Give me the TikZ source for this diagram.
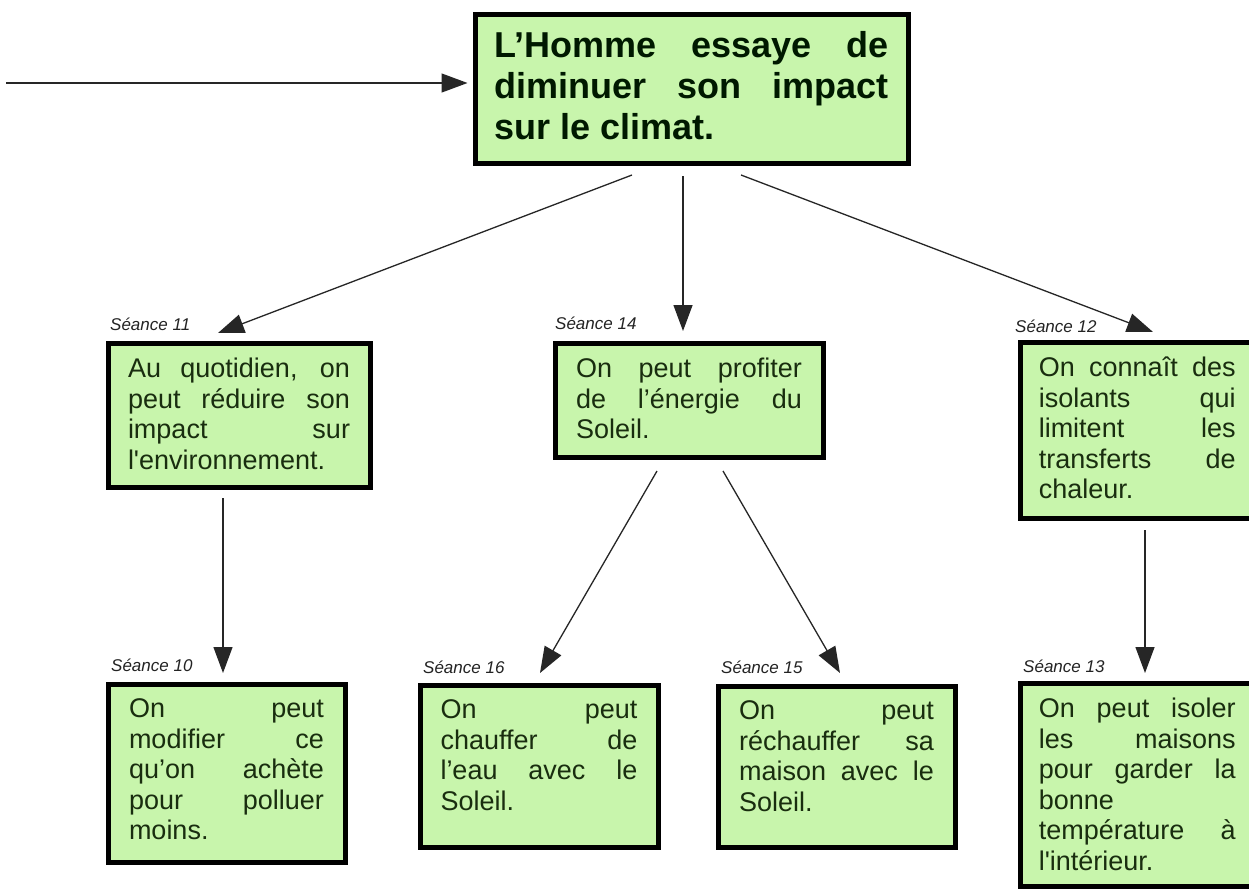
\documentclass[tikz,border=0pt]{standalone}
\usepackage{fontspec}
\newfontfamily\lib{Liberation Sans}
\usetikzlibrary{arrows.meta}
\definecolor{boxfill}{RGB}{200,245,172}
\definecolor{txt}{RGB}{25,45,15}
\definecolor{labcol}{RGB}{35,35,35}
\newcommand\boxtext[4]{\parbox[c][#1][t]{#2}{\hyphenpenalty=10000\tolerance=10000\rule{0pt}{#3}#4}}
\begin{document}
\begin{tikzpicture}[x=1pt,y=-1pt,
  box/.style={draw=black, line width=5pt, fill=boxfill, text=txt, anchor=north west, inner ysep=0pt,
    font=\lib\fontsize{27}{30.5}\selectfont},
  topbox/.style={box, font=\lib\bfseries\fontsize{36}{41}\selectfont, text=black!90!green},
  lab/.style={anchor=base west, inner sep=0pt, text=labcol, font=\lib\itshape\fontsize{17}{19}\selectfont},
  arr/.style={draw=black!85, line width=1.3pt, -{Triangle[length=26pt,width=19pt]}}]
\clip (0,0) rectangle (1249,891);
\useasboundingbox (0,0) rectangle (1249,891);
\fill[white] (0,0) rectangle (1249,891);

% boxes
\node[topbox, inner xsep=19.5pt] (top) at (472.5,12.5)
  {\boxtext{148pt}{394pt}{42.5pt}{L’Homme essaye de\linebreak diminuer son impact\linebreak sur le climat.}};
\node[box, inner xsep=20pt] (b11) at (105.5,340.5)
  {\boxtext{144pt}{222pt}{34.5pt}{Au quotidien, on\linebreak peut réduire son\linebreak impact sur\linebreak l'environnement.}};
\node[box, inner xsep=21pt] (b14) at (552.5,340.5)
  {\boxtext{114pt}{226pt}{34.5pt}{On peut profiter\linebreak de l’énergie du\linebreak Soleil.}};
\node[box, inner xsep=18.75pt] (b12) at (1017.5,339.5)
  {\boxtext{176pt}{197pt}{34.5pt}{On connaît des\linebreak isolants qui\linebreak limitent les\linebreak transferts de\linebreak chaleur.}};
\node[box, inner xsep=21pt] (b10) at (105.5,681.5)
  {\boxtext{178pt}{195pt}{33.5pt}{On peut\linebreak modifier ce\linebreak qu’on achète\linebreak pour polluer\linebreak moins.}};
\node[box, inner xsep=20.5pt] (b16) at (417.5,682.5)
  {\boxtext{162pt}{197pt}{33.5pt}{On peut\linebreak chauffer de\linebreak l’eau avec le\linebreak Soleil.}};
\node[box, inner xsep=21pt] (b15) at (715.5,683.5)
  {\boxtext{161pt}{195pt}{33.5pt}{On peut\linebreak réchauffer sa\linebreak maison avec le\linebreak Soleil.}};
\node[box, inner xsep=18.75pt] (b13) at (1017.5,680.5)
  {\boxtext{203pt}{197pt}{34.5pt}{On peut isoler\linebreak les maisons\linebreak pour garder la\linebreak bonne\linebreak température à\linebreak l'intérieur.}};

% session labels
\node[lab] (l11) at (110,330) {Séance 11};
\node[lab] (l14) at (555,329) {Séance 14};
\node[lab] (l12) at (1015,332) {Séance 12};
\node[lab] (l10) at (111,671) {Séance 10};
\node[lab] (l16) at (423,673) {Séance 16};
\node[lab] (l15) at (721,673) {Séance 15};
\node[lab] (l13) at (1023,672) {Séance 13};

% connector ends
\coordinate (in0) at (6,83);
\coordinate (s1) at (632,175);  \coordinate (e1) at (218,333);
\coordinate (s2) at (683,176);  \coordinate (e2) at (683,331);
\coordinate (s3) at (741,175);  \coordinate (e3) at (1153,332);
\coordinate (s4) at (223,498);  \coordinate (e4) at (223,673);
\coordinate (s5) at (657,471);  \coordinate (e5) at (540,673);
\coordinate (s6) at (723,471);  \coordinate (e6) at (840,673);
\coordinate (s7) at (1145,530); \coordinate (e7) at (1145,673);

\draw[arr, shorten >=5pt] (in0) -- (in0 -| top.west);
\draw[arr] (s1) -- (e1);
\draw[arr] (s2) -- (e2);
\draw[arr] (s3) -- (e3);
\draw[arr] (s4) -- (e4);
\draw[arr] (s5) -- (e5);
\draw[arr] (s6) -- (e6);
\draw[arr] (s7) -- (e7);
\end{tikzpicture}
\end{document}
